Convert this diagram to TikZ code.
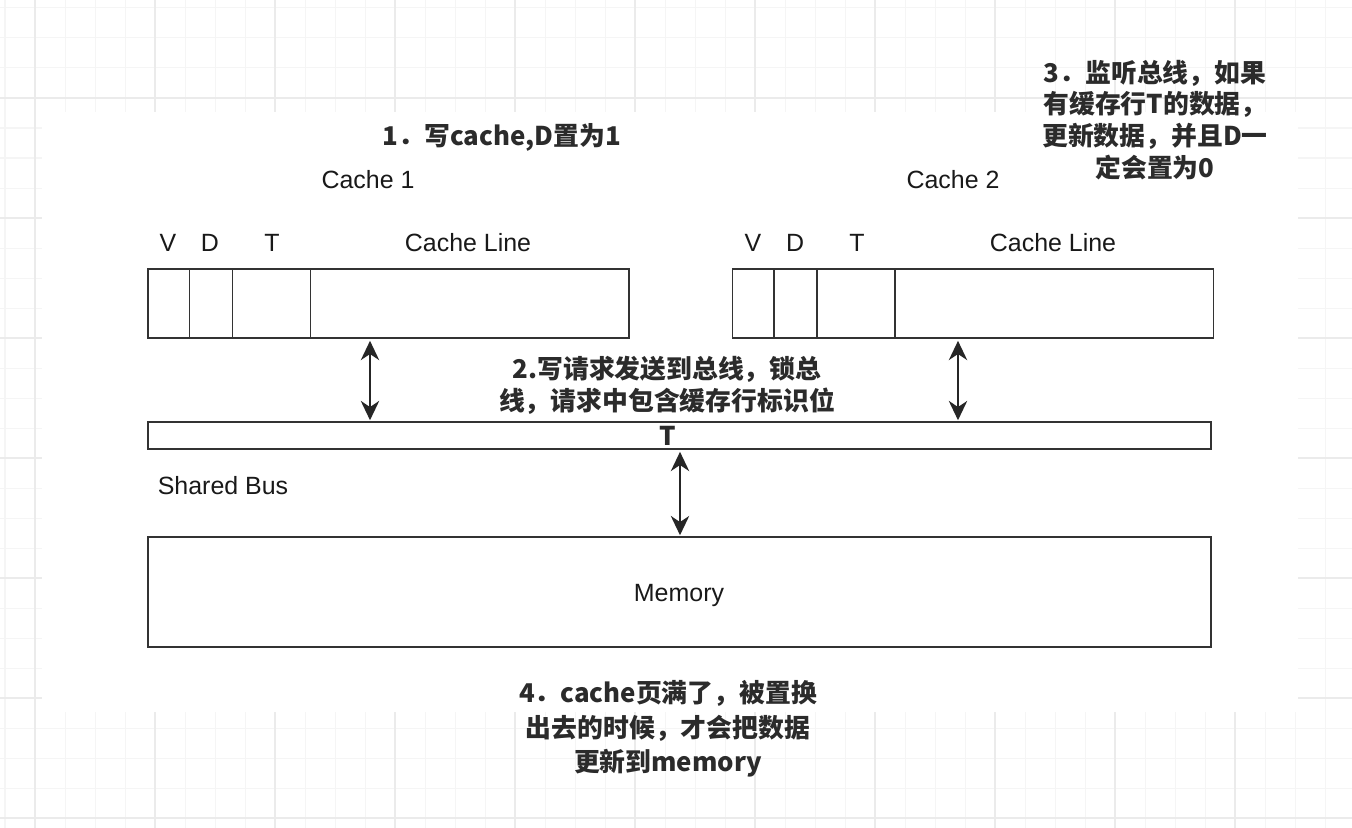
\documentclass[tikz,border=0pt]{standalone}
\usepackage{fontspec}
\setmainfont{Liberation Sans}
\newfontfamily\cjk{Noto Sans CJK SC}
\usetikzlibrary{arrows.meta}
\usetikzlibrary{positioning}
\definecolor{gridminor}{HTML}{F5F5F5}
\definecolor{gridmajor}{HTML}{EBEBEB}
\definecolor{ink}{HTML}{333333}
\definecolor{note}{HTML}{2B2B2B}
\tikzset{box/.style = {draw=ink, line width=0.85pt, inner sep=0pt, fill=white},
         field/.style = {font=\fontsize{14.2pt}{17pt}\selectfont, text=black!90, inner sep=0pt},
         notes/.style = {font=\cjk\bfseries\fontsize{14.7pt}{18.1pt}\selectfont,
                         text=note, align=center, inner sep=0pt},
         busarrow/.style = {{Stealth[inset=3.5pt,length=11pt,width=10.5pt]}-{Stealth[inset=3.5pt,length=11pt,width=10.5pt]},
                            draw=black!85, line width=0.85pt, shorten <=1.2pt, shorten >=0.6pt}}

\begin{document}
\begin{tikzpicture}[x=0.02cm, y=-0.02cm]
    \useasboundingbox (0,0) rectangle (1352,828);
    \fill [white] (0,0) rectangle (1352,828);
    % background grid
    \foreach \x in {5,35,...,1325} \draw [gridminor, line width=0.57pt] (\x,0) -- (\x,828);
    \foreach \y in {8,38,...,818} \draw [gridminor, line width=0.57pt] (0,\y) -- (1352,\y);
    \foreach \x in {35,155,...,1315} \draw [gridmajor, line width=1pt] (\x,0) -- (\x,828);
    \foreach \y in {98,218,...,818} \draw [gridmajor, line width=1pt] (0,\y) -- (1352,\y);
    \fill [white] (42,112) rectangle (1298,712);

    % caches
    \node [box, minimum width=9.62cm, minimum height=1.38cm] (cacheA) at (388.5,303.5) {};
    \node [box, minimum width=9.62cm, minimum height=1.38cm] (cacheB) at (973,303.5) {};
    \foreach \c in {cacheA, cacheB}
      \foreach \d in {42,85,163}
        \draw [ink, line width=0.85pt] ([xshift=\d*0.02cm]\c.north west) -- ([xshift=\d*0.02cm]\c.south west);
    \foreach \c/\dx in {A/0, B/585} {
      \node [field] at (168+\dx,243) {V};
      \node [field] at (210+\dx,243) {D};
      \node [field] at (272+\dx,243) {T};
      \node [field] at (468+\dx,243) {Cache Line};
    }
    \node [field] (titleA) at (368,180) {Cache 1};
    \node [field] (titleB) at (953,180) {Cache 2};

    % bus and memory
    \node [box, minimum width=21.26cm, minimum height=0.54cm] (bus) at (679.5,435.5) {};
    \node [notes] (tag) at (668,436) {T};
    \node [field] (busname) at (223,486) {Shared Bus};
    \node [box, minimum width=21.26cm, minimum height=2.2cm] (memory) at (679.5,592) {};
    \node [field] (memname) at (679,595) {Memory};

    \coordinate (armA) at (370,0);
    \coordinate (armB) at (958,0);
    \coordinate (armM) at (680,0);
    \draw [busarrow] (cacheA.south -| armA) -- (bus.north -| armA);
    \draw [busarrow] (cacheB.south -| armB) -- (bus.north -| armB);
    \draw [busarrow] (bus.south -| armM) -- (memory.north -| armM);

    % steps
    \node [notes] (stepA) at (502,137) {1．写cache,D置为1};
    \node [notes] (stepB) at (667,385) {2.写请求发送到总线，锁总\\线，请求中包含缓存行标识位};
    \node [notes] (stepC) at (1155,120) {3．监听总线，如果\\有缓存行T的数据，\\更新数据，并且D一\\定会置为0};
    \node [notes, font=\cjk\bfseries\fontsize{14.7pt}{19.5pt}\selectfont] (stepD) at (668,729)
          {4．cache页满了，被置换\\出去的时候，才会把数据\\更新到memory};
\end{tikzpicture}
\end{document}
